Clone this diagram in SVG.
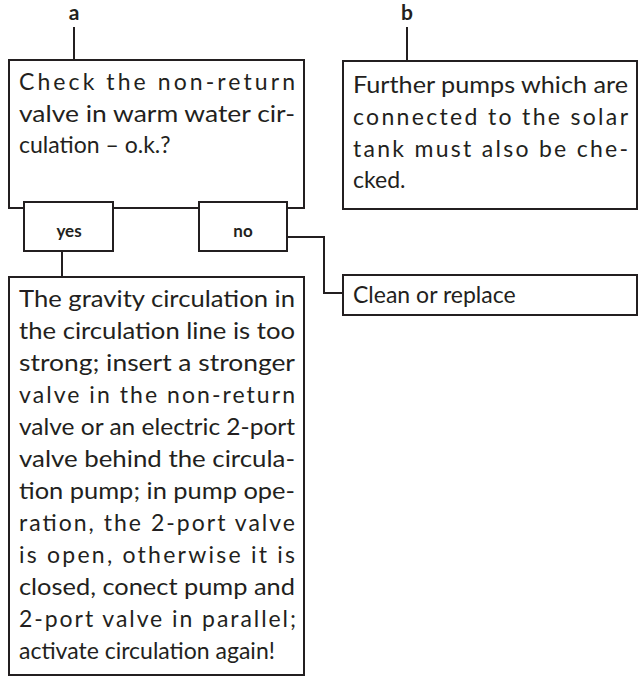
<svg xmlns="http://www.w3.org/2000/svg" width="638" height="679" viewBox="0 0 638 679">
<style>
.box{fill:#fff;stroke:#231f20;stroke-width:2}
.ln{fill:none;stroke:#231f20;stroke-width:2}
.t{font-family:Lato,"Open Sans",sans-serif;font-size:23px;fill:#231f20}
.b{font-family:Lato,"Open Sans",sans-serif;font-weight:bold;fill:#231f20;text-anchor:middle}
</style>
<rect width="638" height="679" fill="#fff"/>
<g id="connectors">
<path class="ln" d="M74 27V60"/>
<path class="ln" d="M407 27V61"/>
<path class="ln" d="M62 251V277"/>
<path class="ln" d="M287 237H324V293H343"/>
</g>
<g id="label-a"><text class="b" x="74" y="20" font-size="21">a</text></g>
<g id="label-b"><text class="b" x="407" y="20" font-size="21">b</text></g>
<g id="node-check">
<rect class="box" x="9" y="60" width="295" height="148"/>
<text class="t" x="19" y="90" textLength="276" lengthAdjust="spacing">Check the non-return</text>
<text class="t" x="19" y="122" textLength="276" lengthAdjust="spacingAndGlyphs">valve in warm water cir-</text>
<text class="t" x="19" y="153">culation – o.k.?</text>
</g>
<g id="node-yes">
<rect class="box" x="24" y="202" width="89" height="49"/>
<text class="b" x="69" y="237" font-size="17">yes</text>
</g>
<g id="node-no">
<rect class="box" x="199" y="202" width="88" height="49"/>
<text class="b" x="243" y="237" font-size="17">no</text>
</g>
<g id="node-further">
<rect class="box" x="343" y="61" width="294" height="148"/>
<text class="t" x="353" y="93" textLength="275" lengthAdjust="spacingAndGlyphs">Further pumps which are</text>
<text class="t" x="353" y="125" textLength="275" lengthAdjust="spacing">connected to the solar</text>
<text class="t" x="353" y="157" textLength="275" lengthAdjust="spacing">tank must also be che-</text>
<text class="t" x="353" y="188">cked.</text>
</g>
<g id="node-clean">
<rect class="box" x="343" y="275" width="294" height="40"/>
<text class="t" x="353" y="303">Clean or replace</text>
</g>
<g id="node-gravity">
<rect class="box" x="9" y="277" width="295" height="398"/>
<text class="t" x="19" y="307" textLength="276" lengthAdjust="spacingAndGlyphs">The gravity circulation in</text>
<text class="t" x="19" y="339" textLength="276" lengthAdjust="spacingAndGlyphs">the circulation line is too</text>
<text class="t" x="19" y="371" textLength="276" lengthAdjust="spacingAndGlyphs">strong; insert a stronger</text>
<text class="t" x="19" y="403" textLength="276" lengthAdjust="spacing">valve in the non-return</text>
<text class="t" x="19" y="435" textLength="276" lengthAdjust="spacingAndGlyphs">valve or an electric 2-port</text>
<text class="t" x="19" y="467" textLength="276" lengthAdjust="spacingAndGlyphs">valve behind the circula-</text>
<text class="t" x="19" y="499" textLength="276" lengthAdjust="spacingAndGlyphs">tion pump; in pump ope-</text>
<text class="t" x="19" y="531" textLength="276" lengthAdjust="spacing">ration, the 2-port valve</text>
<text class="t" x="19" y="563" textLength="276" lengthAdjust="spacing">is open, otherwise it is</text>
<text class="t" x="19" y="595" textLength="276" lengthAdjust="spacingAndGlyphs">closed, conect pump and</text>
<text class="t" x="19" y="627" textLength="277" lengthAdjust="spacing">2-port valve in parallel;</text>
<text class="t" x="19" y="659">activate circulation again!</text>
</g>
</svg>
